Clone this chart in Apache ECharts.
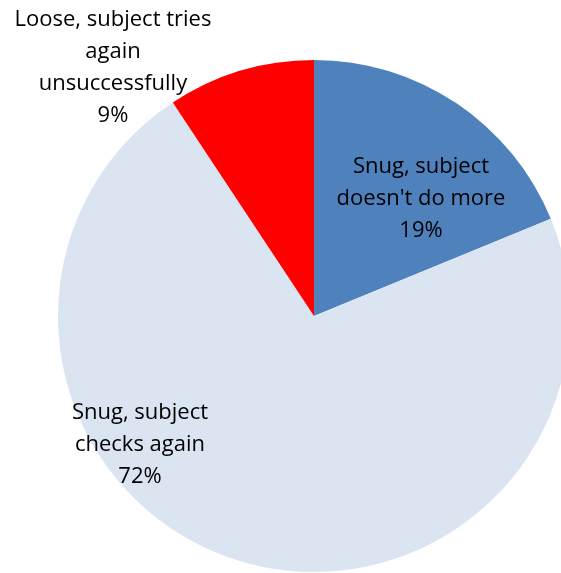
<!DOCTYPE html>
<html>
<head>
<meta charset="utf-8">
<script src="https://cdn.jsdelivr.net/npm/echarts@6/dist/echarts.min.js"></script>
<style>
  html, body { margin: 0; padding: 0; background: #fff; }
  #chart { width: 561px; height: 573px; }
</style>
</head>
<body>
<div id="chart"></div>
<script>
// slice names and shares (percent), clockwise from 12 o'clock
const names = [
  "Snug, subject\ndoesn't do more",
  'Snug, subject\nchecks again',
  'Loose, subject tries\nagain\nunsuccessfully'
];
const shares = [18.8, 71.9, 9.3];
const colors = ['#4F81BD', '#DBE5F1', '#FF0000'];

// where each label sits (Excel put them by hand-ish best fit)
const labelSpots = [[421, 199], [140, 445], [113, 68]];

const chart = echarts.init(document.getElementById('chart'));

const option = {
  animation: false,
  series: [{
    type: 'pie',
    center: [314, 316],
    radius: 256,
    startAngle: 90,
    percentPrecision: 0,
    data: names.map((n, i) => ({
      name: n,
      value: shares[i],
      itemStyle: { color: colors[i] }
    })),
    label: {
      show: true,
      position: 'inside',
      formatter: '{b}\n{d}%',
      color: '#000',
      fontFamily: 'Open Sans',
      fontSize: 22,
      lineHeight: 32,
      align: 'center'
    },
    labelLine: { show: false },
    labelLayout: function (params) {
      const p = labelSpots[params.dataIndex];
      return { x: p[0], y: p[1], align: 'center', verticalAlign: 'middle' };
    }
  }]
};

chart.setOption(option);
</script>
</body>
</html>
